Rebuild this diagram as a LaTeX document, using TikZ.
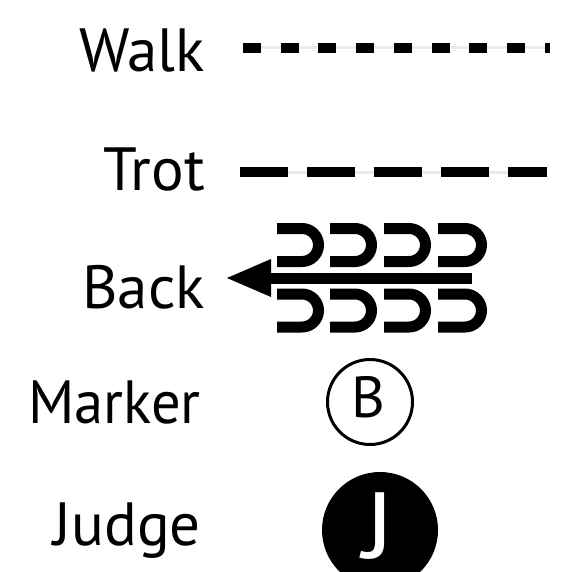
\documentclass[tikz,border=0pt]{standalone}
\usepackage{fontspec}
\setmainfont{PT Sans}
\begin{document}
\begin{tikzpicture}[x=1pt,y=-1pt,
  lbl/.style={anchor=base east,inner sep=0pt,font=\fontsize{61}{61}\selectfont},
  guide/.style={line width=3pt,black!8},
  gait/.style={line width=10pt,line cap=butt},
  shoe/.style={line width=11pt,line cap=butt}]
\useasboundingbox (0,0) rectangle (563,572);
% labels
\node[lbl] (walk) at (205,72) {Walk};
\node[lbl] (trot) at (205,190) {Trot};
\node[lbl] (back) at (205,308) {Back};
\node[lbl] (marker) at (201,423) {\scalebox{0.96}[1]{Marker}};
\node[lbl] (judge) at (201,545) {Judge};
% walk
\coordinate (w1) at (243,48);
\coordinate (w2) at (550,48);
\draw[guide] (w1) -- (w2);
\draw[gait,dash pattern=on 18pt off 19.7pt] (w1) -- (w2);
% trot
\coordinate (t1) at (240,172);
\coordinate (t2) at (547,172);
\draw[guide] (t1) -- (t2);
\draw[gait,dash pattern=on 48pt off 19pt] (t1) -- (t2);
% back
\coordinate (b1) at (472,278);
\coordinate (b2) at (268,278);
\draw[line width=11pt] (b1) -- (b2);
\fill (227,278) -- (271,259) -- (271,297) -- cycle;
\foreach \xl/\xr in {277/324,330/377,384/431,438/487}{
  \draw[shoe] (\xl,228.5) -- ({\xr-22},228.5) arc[start angle=-90,end angle=90,radius=16.5] -- (\xl,261.5);
  \draw[shoe] (\xl,294) -- ({\xr-22},294) arc[start angle=-90,end angle=90,radius=16.5] -- (\xl,327);
}
% marker
\node[circle,draw,line width=3pt,minimum size=85pt,inner sep=0pt] (mk) at (370,402) {};
\node[inner sep=0pt,font=\fontsize{58}{58}\selectfont] (mkB) at (368,397) {B};
% judge
\node[circle,fill=black,minimum size=116pt,inner sep=0pt] (jd) at (380,530) {};
\node[inner sep=0pt,text=white,font=\fontsize{94}{94}\selectfont,anchor=base,text depth=0pt] (jdJ) at (379,558) {\scalebox{1.15}[1]{J}};
\end{tikzpicture}
\end{document}
